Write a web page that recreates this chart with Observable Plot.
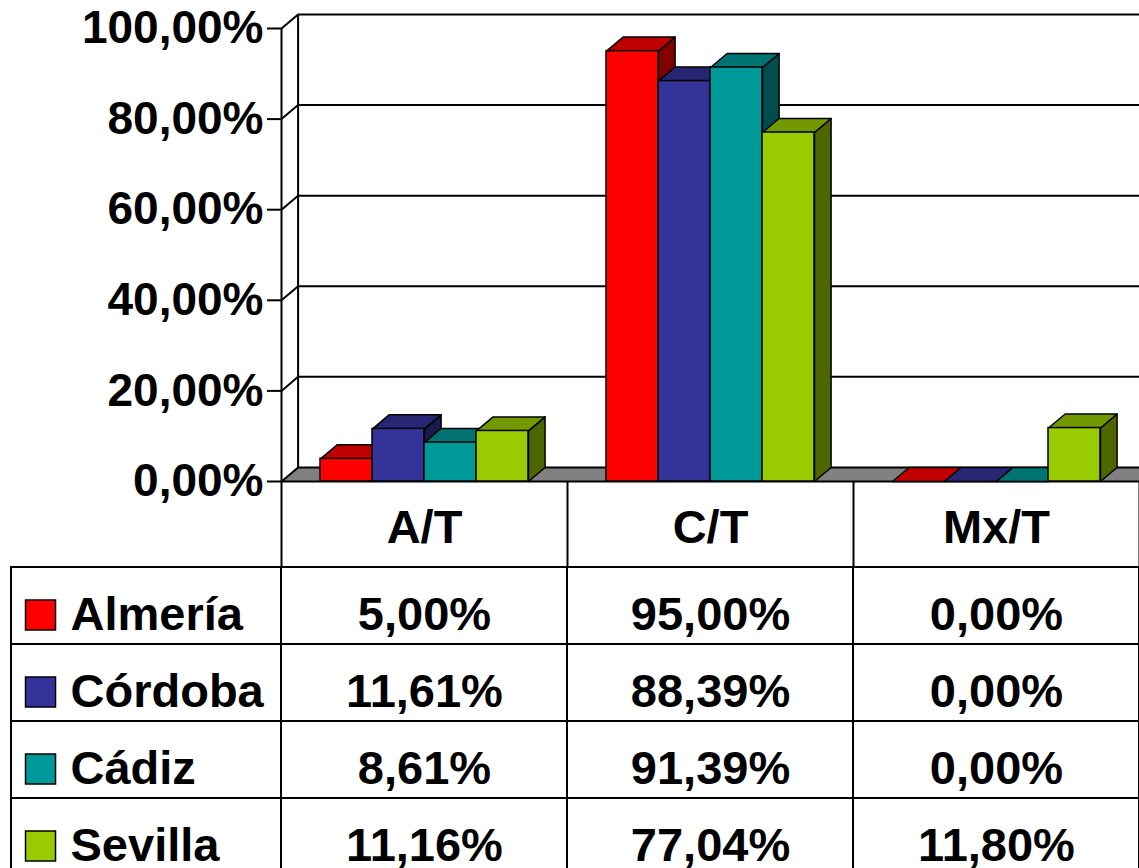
<!DOCTYPE html>
<html>
<head>
<meta charset="utf-8">
<script src="https://cdn.jsdelivr.net/npm/d3@7"></script>
<script src="https://cdn.jsdelivr.net/npm/@observablehq/plot@0.6"></script>
<style>
  html, body { margin: 0; padding: 0; background: #fff; }
  #chart svg { display: block; }
</style>
</head>
<body>
<div id="chart"></div>
<script>
// ---- data ----
const categories = ["A/T", "C/T", "Mx/T"];
const provinces = ["Almería", "Córdoba", "Cádiz", "Sevilla"];
const almeria = [5.00, 95.00, 0.00];
const cordoba = [11.61, 88.39, 0.00];
const cadiz = [8.61, 91.39, 0.00];
const sevilla = [11.16, 77.04, 11.80];
const yTicks = [0, 20, 40, 60, 80, 100];
const frontColors = ["#FF0000", "#333399", "#009999", "#99CC00"];
const topColors = ["#C00000", "#262673", "#007373", "#739900"];
const sideColors = ["#800000", "#1A1A4D", "#004D4D", "#4D6600"];

const seriesValues = [almeria, cordoba, cadiz, sevilla];

// ---- layout (scale units) ----
const FONT = "'Liberation Sans', Arial, Helvetica, sans-serif";
const barW = 0.1818;       // bar width in category units
const groupPad = 0.1364;   // offset of the first bar inside its category
const depthX = 0.058;      // 3D depth, x (category units)
const depthY = 3.1;        // 3D depth, y (percent units)
const legendLeft = -0.944; // left border of the legend column (category units)
const fmt = v => v.toFixed(2).replace(".", ",") + "%";

const bars = [];
seriesValues.forEach((vals, j) => vals.forEach((v, i) => {
  const x0 = i + groupPad + j * barW;
  bars.push({j, i, x0, x1: x0 + barW, v});
}));

const sidePts = [], topPts = [];
bars.forEach((b, k) => {
  [[b.x1, 0], [b.x1, b.v], [b.x1 + depthX, b.v + depthY], [b.x1 + depthX, depthY], [b.x1, 0]]
    .forEach(([x, y]) => sidePts.push({id: k, x, y, c: sideColors[b.j]}));
  [[b.x0, b.v], [b.x1, b.v], [b.x1 + depthX, b.v + depthY], [b.x0 + depthX, b.v + depthY], [b.x0, b.v]]
    .forEach(([x, y]) => topPts.push({id: k, x, y, c: topColors[b.j]}));
});
const floorPts = [[0, 0], [3, 0], [3, depthY], [depthX, depthY], [0, 0]].map(([x, y]) => ({x, y}));

const svgStyle = `font-family:${FONT};font-weight:bold;font-size:47px;color:black;background:white;overflow:visible;`;

const chart = Plot.plot({
  width: 1139, height: 567,
  marginLeft: 281, marginRight: 0, marginTop: 28, marginBottom: 86,
  x: {type: "linear", domain: [0, 3]},
  y: {type: "linear", domain: [0, 100]},
  color: {type: "identity"},
  style: svgStyle,
  marks: [
    Plot.line(floorPts, {x: "x", y: "y", fill: "#808080", stroke: "none"}),
    Plot.ruleY(yTicks, {y: d => d + depthY, x1: depthX, x2: 3, stroke: "black", strokeWidth: 2}),
    Plot.ruleX([depthX], {y1: depthY, y2: 100 + depthY, stroke: "black", strokeWidth: 2}),
    Plot.link(yTicks, {x1: 0, x2: depthX, y1: d => d, y2: d => d + depthY, stroke: "black", strokeWidth: 2}),
    Plot.ruleY([0], {x1: 0, x2: 3, stroke: "black", strokeWidth: 2}),
    Plot.ruleX([0], {y1: 0, y2: 100, stroke: "black", strokeWidth: 2}),
    Plot.axisY({ticks: yTicks, tickSize: 14, tickPadding: 4, tickFormat: fmt, label: null,
      fontSize: 46, fontWeight: "bold", fontFamily: FONT, stroke: "black", strokeWidth: 2, strokeOpacity: 1}),
    Plot.axisX({ticks: [0, 1, 2, 3], tickSize: 86, tickFormat: () => "", label: null,
      stroke: "black", strokeWidth: 2, strokeOpacity: 1}),
    Plot.line(sidePts, {x: "x", y: "y", z: "id", fill: d => d.c, stroke: "black", strokeWidth: 1.5}),
    Plot.line(topPts, {x: "x", y: "y", z: "id", fill: d => d.c, stroke: "black", strokeWidth: 1.5}),
    Plot.rect(bars, {x1: "x0", x2: "x1", y1: 0, y2: "v", fill: d => frontColors[d.j], stroke: "black", strokeWidth: 1.5}),
    Plot.text(categories, {x: (d, i) => i + 0.5, frameAnchor: "bottom", dy: 61, lineAnchor: "bottom",
      text: d => d, fontSize: 47, fontWeight: "bold", fontFamily: FONT, fill: "black"})
  ]
});

const cells = [];
provinces.forEach(p => {
  cells.push({p, x1: legendLeft, x2: 0});
  categories.forEach((c, i) => cells.push({p, x1: i, x2: i + 1}));
});
const valueCells = provinces.flatMap((p, j) => seriesValues[j].map((v, i) => ({p, i, v})));

const table = Plot.plot({
  width: 1139, height: 301,
  marginLeft: 281, marginRight: 0, marginTop: 0, marginBottom: 0,
  x: {type: "linear", domain: [0, 3], axis: null},
  y: {type: "band", domain: provinces, range: [0, 308], padding: 0, axis: null},
  color: {type: "identity"},
  style: svgStyle,
  marks: [
    Plot.barX(cells, {x1: "x1", x2: "x2", y: "p", fill: "none", stroke: "black", strokeWidth: 2}),
    Plot.dot(provinces, {x: legendLeft, dx: 29, y: d => d, dy: 9, symbol: "square", r: 16.93,
      fill: (d, i) => frontColors[i], stroke: "black", strokeWidth: 1.5}),
    Plot.text(provinces, {x: legendLeft, dx: 59, y: d => d, dy: 24, text: d => d, textAnchor: "start",
      lineAnchor: "bottom", fontSize: 47, fontWeight: "bold", fontFamily: FONT, fill: "black"}),
    Plot.text(valueCells, {x: d => d.i + 0.5, y: "p", dy: 24, text: d => fmt(d.v), lineAnchor: "bottom",
      fontSize: 47, fontWeight: "bold", fontFamily: FONT, fill: "black"})
  ]
});

const host = document.getElementById("chart");
host.appendChild(chart);
host.appendChild(table);
</script>
</body>
</html>
